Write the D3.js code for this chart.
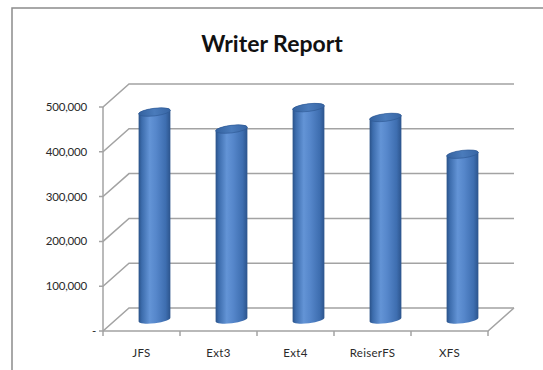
<!DOCTYPE html>
<html><head><meta charset="utf-8">
<script src="https://cdn.jsdelivr.net/npm/d3@7"></script>
<style>html,body{margin:0;padding:0;background:#fff;}svg{display:block;}</style>
</head><body>
<script>
const categories = ["JFS", "Ext3", "Ext4", "ReiserFS", "XFS"];
const values = [463000, 425000, 473000, 451000, 369000];
const yTicks = [0, 100000, 200000, 300000, 400000, 500000];
const title = "Writer Report";

const W = 543, H = 370;
const svg = d3.select("body").append("svg").attr("width", W).attr("height", H);

// chart border
svg.append("rect").attr("x", 12).attr("y", 8).attr("width", 700).attr("height", 500)
  .attr("fill", "#fff").attr("stroke", "#8c8c8c").attr("stroke-width", 1.5);

svg.append("text").attr("x", 272).attr("y", 52).attr("text-anchor", "middle")
  .attr("font-family", "Lato, 'Open Sans', sans-serif").attr("font-weight", "bold")
  .attr("font-size", 23).attr("fill", "#111").text(title);

const x = d3.scaleBand().domain(categories).range([103, 488]);
const y = d3.scaleLinear().domain([0, 500000]).range([331, 107]);
const DX = 26, DY = -23;
const grid = "#a3a3a3";

// gridlines: front tick -> diagonal -> back wall
const g = svg.append("g");
yTicks.forEach(v => {
  const yy = y(v);
  g.append("path").attr("d", `M${x.range()[0]-4},${yy} L${x.range()[0]},${yy} L${x.range()[0]+DX},${yy+DY} L${x.range()[1]+DX},${yy+DY}`)
    .attr("fill", "none").attr("stroke", grid).attr("stroke-width", 1.5);
});
// front vertical axis
g.append("line").attr("x1", 103).attr("x2", 103).attr("y1", y(0)).attr("y2", y(500000))
  .attr("stroke", grid).attr("stroke-width", 1.5);
// floor front and right
g.append("path").attr("d", `M${x.range()[0]},${y(0)} L${x.range()[1]},${y(0)} L${x.range()[1]+DX},${y(0)+DY}`)
  .attr("fill", "none").attr("stroke", grid).attr("stroke-width", 1.5);
// category ticks
const bounds = categories.map(c => x(c)).concat([x.range()[1]]);
bounds.forEach(b => {
  g.append("line").attr("x1", b).attr("x2", b).attr("y1", y(0)).attr("y2", y(0) + 5)
    .attr("stroke", grid).attr("stroke-width", 1.5);
});

// y labels
const fmt = d3.format(",");
yTicks.forEach(v => {
  svg.append("text").attr("x", v === 0 ? 96 : 87).attr("y", y(v)).attr("dy", "0.35em")
    .attr("text-anchor", "end").attr("font-family", "Lato, sans-serif").attr("font-size", 11.5)
    .attr("letter-spacing", "-0.2px").attr("fill", "#2a2a2a").text(v === 0 ? "-" : fmt(v));
});
// x labels
categories.forEach(c => {
  svg.append("text").attr("x", x(c) + x.bandwidth() / 2).attr("y", 357)
    .attr("text-anchor", "middle").attr("font-family", "Lato, sans-serif").attr("font-size", 11.5)
    .attr("letter-spacing", "0.3px").attr("fill", "#2a2a2a").text(c);
});

// gradients
const defs = svg.append("defs");
const bg = defs.append("linearGradient").attr("id", "body").attr("x1", 0).attr("x2", 1).attr("y1", 0).attr("y2", 0);
[[0, "#2a5288"], [0.1, "#3c6cac"], [0.35, "#6394d6"], [0.55, "#5687cb"], [0.85, "#3e6eb0"], [1, "#2c548c"]]
  .forEach(s => bg.append("stop").attr("offset", s[0]).attr("stop-color", s[1]));
const tg = defs.append("linearGradient").attr("id", "top").attr("x1", 0).attr("x2", 1).attr("y1", 0).attr("y2", 0);
[[0, "#34629f"], [0.5, "#4a7bbb"], [1, "#3765a4"]]
  .forEach(s => tg.append("stop").attr("offset", s[0]).attr("stop-color", s[1]));

const rx = 16, ry = 3.8, rot = -7;
const sx = rx * Math.cos(rot * Math.PI / 180), sy = -rx * Math.sin(rot * Math.PI / 180);
categories.forEach((c, i) => {
  const cx = x(c) + x.bandwidth() / 2 + DX / 2;
  const yb = y(0) + DY / 2;
  const yt = y(values[i]) + DY / 2;
  const d = `M${cx - sx},${yt + sy} L${cx - sx},${yb + sy} A${rx},${ry} ${rot} 0 0 ${cx + sx},${yb - sy} L${cx + sx},${yt - sy} A${rx},${ry} ${rot} 0 0 ${cx - sx},${yt + sy} Z`;
  svg.append("path").attr("d", d).attr("fill", "url(#body)");
  svg.append("ellipse").attr("cx", 0).attr("cy", 0).attr("rx", rx).attr("ry", ry)
    .attr("transform", `translate(${cx},${yt}) rotate(${rot})`)
    .attr("fill", "url(#top)").attr("stroke", "#2d5892").attr("stroke-width", 0.6);
});
</script>
</body></html>
